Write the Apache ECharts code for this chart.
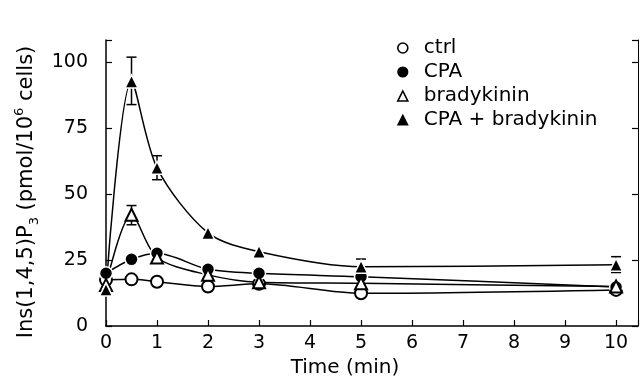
<!DOCTYPE html>
<html>
<head>
<meta charset="utf-8">
<script src="https://cdn.jsdelivr.net/npm/echarts@6/dist/echarts.min.js"></script>
<style>
  html, body { margin: 0; padding: 0; background: #fff; }
  #chart { width: 641px; height: 388px; }
</style>
</head>
<body>
<div id="chart"></div>
<script>
// time points (min)
const times = [0, 0.5, 1, 2, 3, 5, 10];

// Ins(1,4,5)P3, pmol / 10^6 cells
const ctrl = [17.5, 17.7, 16.8, 15.0, 16.0, 12.4, 13.7];
const cpa = [20.0, 25.3, 27.6, 21.5, 20.0, 18.7, 14.8];
const brady = [15.6, 42.2, 26.0, 19.4, 16.6, 16.2, 15.0];
const cpaBrady = [13.8, 92.8, 60.0, 35.3, 28.2, 22.5, 23.2];

// error bars: [time, low, high]
const cpaBradyErr = [[0.5, 84, 102], [1, 55.5, 64.6], [5, 19.5, 25.4], [10, 20.3, 26.3]];
const bradyErr = [[0.5, 38.4, 45.7]];

const xTicks = [0, 1, 2, 3, 4, 5, 6, 7, 8, 9, 10];
const yTicks = [0, 25, 50, 75, 100];

const font = 'DejaVu Sans';
const chart = echarts.init(document.getElementById('chart'));

function pairs(ys) {
  return times.map((t, i) => [t, ys[i]]);
}

function lineSeries(name, ys, symbol, filled) {
  return {
    name: name,
    type: 'line',
    data: pairs(ys),
    smooth: 0.3,
    symbol: symbol,
    symbolSize: filled ? 13 : 12,
    showAllSymbol: true,
    lineStyle: { color: '#000', width: 1.5 },
    itemStyle: filled
      ? { color: '#000', borderColor: '#fff', borderWidth: 1.5 }
      : { color: '#000', borderColor: '#000', borderWidth: 1.8 },
    emphasis: { disabled: true },
    z: 3
  };
}

const axisLabelStyle = { color: '#000', fontFamily: font, fontSize: 19 };
const openIcon = { color: '#fff', borderColor: '#000', borderWidth: 1.6 };
const filledIcon = { color: '#000', borderColor: '#000', borderWidth: 1.2 };

chart.setOption({
  backgroundColor: '#fff',
  animation: false,
  grid: { left: 106, right: 2, top: 40, bottom: 62 },
  legend: {
    orient: 'vertical',
    left: 392,
    top: 33,
    itemWidth: 10,
    itemHeight: 10,
    itemGap: 4,
    textStyle: { color: '#000', fontFamily: font, fontSize: 20, padding: [0, 0, 0, 11] },
    data: [
      { name: 'ctrl', icon: 'circle', itemStyle: openIcon },
      { name: 'CPA', icon: 'circle', itemStyle: filledIcon },
      { name: 'bradykinin', icon: 'triangle', itemStyle: openIcon },
      { name: 'CPA + bradykinin', icon: 'triangle', itemStyle: filledIcon }
    ]
  },
  xAxis: {
    type: 'value',
    min: 0,
    max: 10.43,
    interval: 1,
    name: 'Time (min)',
    nameLocation: 'middle',
    nameGap: 32,
    nameTextStyle: { color: '#000', fontFamily: font, fontSize: 20, padding: [0, 54, 0, 0] },
    axisLine: { lineStyle: { color: '#000', width: 1.5 } },
    axisTick: { inside: true, length: 6, lineStyle: { color: '#000', width: 1.2 } },
    axisLabel: Object.assign({ margin: 8, formatter: v => xTicks.includes(v) ? String(v) : '' }, axisLabelStyle),
    splitLine: { show: false }
  },
  yAxis: [
    {
      type: 'value',
      min: 0,
      max: 108.5,
      interval: 25,
      name: '{n|Ins(1,4,5)P}{sub|3}{n| (pmol/10}{sup|6}{n| cells)}',
      nameLocation: 'middle',
      nameGap: 62,
      nameTextStyle: {
        color: '#000',
        fontFamily: font,
        fontSize: 21,
        padding: [0, 18, 0, 0],
        rich: {
          n: { fontFamily: font, fontSize: 21, color: '#000', lineHeight: 28 },
          sub: { fontFamily: font, fontSize: 13, color: '#000', verticalAlign: 'bottom', lineHeight: 28, padding: [9, 0, 0, 0] },
          sup: { fontFamily: font, fontSize: 13, color: '#000', verticalAlign: 'top', lineHeight: 28, padding: [0, 0, 9, 0] }
        }
      },
      axisLine: { show: true, lineStyle: { color: '#000', width: 1.5 } },
      axisTick: { show: true, inside: true, length: 6, lineStyle: { color: '#000', width: 1.2 } },
      axisLabel: Object.assign({ margin: 18, formatter: v => yTicks.includes(v) ? String(v) : '' }, axisLabelStyle),
      splitLine: { show: false }
    },
    {
      type: 'value',
      position: 'right',
      min: 0,
      max: 108.5,
      interval: 25,
      axisLine: { show: true, lineStyle: { color: '#000', width: 1 } },
      axisTick: { show: true, inside: true, length: 6, lineStyle: { color: '#000', width: 1.2 } },
      axisLabel: { show: false },
      splitLine: { show: false }
    }
  ],
  series: [
    lineSeries('ctrl', ctrl, 'emptyCircle', false),
    lineSeries('CPA', cpa, 'circle', true),
    lineSeries('bradykinin', brady, 'emptyTriangle', false),
    lineSeries('CPA + bradykinin', cpaBrady, 'triangle', true),
    {
      type: 'custom',
      name: 'errors',
      data: cpaBradyErr.concat(bradyErr),
      encode: { x: 0, y: [1, 2] },
      z: 2,
      renderItem: function (params, api) {
        const x = api.value(0);
        const lo = api.coord([x, api.value(1)]);
        const hi = api.coord([x, api.value(2)]);
        const w = 5;
        const style = { stroke: '#000', lineWidth: 1.5 };
        return {
          type: 'group',
          children: [
            { type: 'line', shape: { x1: lo[0], y1: lo[1], x2: hi[0], y2: hi[1] }, style: style },
            { type: 'line', shape: { x1: lo[0] - w, y1: lo[1], x2: lo[0] + w, y2: lo[1] }, style: style },
            { type: 'line', shape: { x1: hi[0] - w, y1: hi[1], x2: hi[0] + w, y2: hi[1] }, style: style }
          ]
        };
      }
    }
  ]
});
window.addEventListener('resize', () => chart.resize());
</script>
</body>
</html>
